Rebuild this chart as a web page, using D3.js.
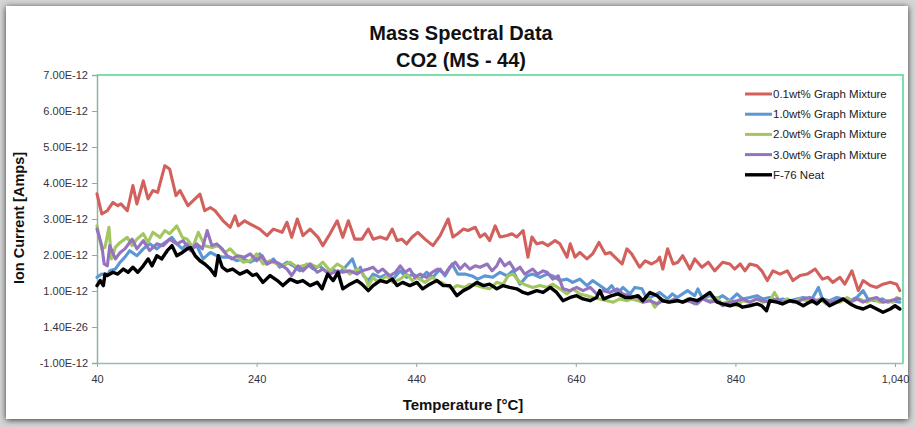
<!DOCTYPE html>
<html>
<head>
<meta charset="utf-8">
<script src="https://cdn.jsdelivr.net/npm/d3@7"></script>
<style>
  html, body { margin: 0; padding: 0; background: #ffffff; }
  svg { display: block; }
</style>
</head>
<body>
<svg id="chart" width="915" height="428"></svg>
<script>
// Axis ticks and their printed labels (ion current in units of 1e-12 A)
const xTicks = [40, 240, 440, 640, 840, 1040];
const yTicks = [-1, 0, 1, 2, 3, 4, 5, 6, 7];
const yTickLabels = ["-1.00E-12", "1.40E-26", "1.00E-12", "2.00E-12", "3.00E-12",
                     "4.00E-12", "5.00E-12", "6.00E-12", "7.00E-12"];

const seriesNames = ["0.1wt% Graph Mixture", "1.0wt% Graph Mixture", "2.0wt% Graph Mixture",
                     "3.0wt% Graph Mixture", "F-76 Neat"];
const seriesColors = ["#d2615d", "#5a97d3", "#a3c660", "#9474bf", "#000000"];

// [temperature °C, ion current ×1e-12 A]
const mix01 = [[40,3.70],[46,3.14],[53,3.23],[60,3.46],[66,3.37],[70,3.42],[78,3.23],[85,3.93],[90,3.42],
  [98,4.06],[104,3.56],[110,3.79],[116,3.74],[125,4.48],[131,4.39],[139,3.65],[144,3.79],[154,3.37],
  [169,3.69],[175,3.23],[182,3.32],[188,3.23],[198,2.95],[207,2.77],[213,3.09],[217,2.81],[225,2.95],
  [232,2.86],[244,2.72],[253,2.54],[261,2.72],[272,2.63],[278,2.91],[284,2.49],[291,3.00],[298,2.54],
  [307,2.72],[317,2.49],[323,2.26],[332,2.59],[341,2.95],[348,2.49],[355,2.95],[363,2.44],[372,2.44],
  [380,2.72],[386,2.44],[395,2.50],[403,2.44],[410,2.72],[416,2.40],[422,2.44],[428,2.31],[435,2.50],
  [442,2.63],[451,2.44],[461,2.26],[470,2.54],[480,3.00],[486,2.50],[492,2.59],[499,2.72],[505,2.68],
  [514,2.77],[520,2.50],[526,2.59],[532,2.40],[539,2.81],[545,2.50],[554,2.54],[560,2.59],[566,2.50],
  [574,2.68],[580,1.94],[585,2.50],[591,2.31],[598,2.35],[605,2.26],[614,2.40],[620,2.31],[629,1.94],
  [633,2.31],[639,1.94],[645,2.07],[654,1.89],[661,2.03],[669,2.35],[677,2.03],[683,2.07],[689,1.94],
  [698,1.75],[704,2.17],[710,2.03],[720,1.66],[727,1.84],[735,1.75],[742,1.84],[745,1.94],[749,1.61],
  [755,2.17],[762,1.75],[768,1.80],[774,1.98],[783,1.61],[789,1.89],[798,1.66],[806,1.80],[814,1.56],
  [824,1.80],[833,1.75],[839,1.61],[846,1.75],[852,1.56],[858,1.75],[867,1.70],[873,1.56],[880,1.29],
  [887,1.56],[896,1.47],[905,1.56],[912,1.29],[921,1.43],[930,1.47],[940,1.61],[949,1.33],[956,1.38],
  [962,1.24],[971,1.38],[977,1.19],[986,1.56],[994,1.01],[1000,1.29],[1009,1.15],[1017,1.10],[1025,1.19],
  [1034,1.24],[1042,1.19],[1046,1.01]];

const mix10 = [[40,1.38],[46,1.47],[53,1.43],[56,1.56],[63,1.61],[69,1.80],[75,1.94],[81,2.12],[90,1.98],
  [98,2.17],[106,2.31],[115,2.17],[123,2.31],[131,2.44],[134,2.49],[140,2.31],[147,2.17],[153,2.31],
  [159,2.17],[165,2.26],[173,1.89],[182,2.07],[190,1.98],[198,1.94],[207,1.94],[215,1.84],[223,1.89],
  [232,1.80],[240,1.89],[244,2.03],[253,1.75],[261,1.89],[269,1.66],[278,1.80],[286,1.70],[294,1.56],
  [303,1.75],[311,1.61],[319,1.70],[328,1.52],[336,1.61],[342,1.47],[351,1.66],[360,1.89],[366,1.52],
  [370,1.66],[374,1.42],[380,1.29],[386,1.47],[395,1.38],[403,1.47],[411,1.33],[420,1.56],[428,1.38],
  [436,1.47],[445,1.33],[453,1.52],[461,1.38],[470,1.61],[476,1.42],[485,1.75],[492,1.47],[501,1.47],
  [510,1.42],[517,1.33],[526,1.42],[536,1.38],[545,1.52],[554,1.42],[561,1.56],[570,1.19],[579,1.42],
  [586,1.47],[595,1.38],[604,1.47],[611,1.42],[620,1.29],[629,1.33],[636,1.24],[645,1.33],[654,1.15],
  [661,1.29],[670,1.15],[679,1.01],[685,1.15],[692,0.92],[699,1.10],[708,0.92],[714,1.10],[723,1.06],
  [729,0.78],[738,0.87],[745,0.96],[755,0.78],[761,0.92],[767,0.82],[780,1.01],[789,0.87],[793,1.06],
  [799,0.78],[808,0.87],[817,0.78],[824,0.87],[833,0.73],[842,0.92],[849,0.78],[858,0.82],[867,0.87],
  [874,0.78],[883,0.82],[892,0.73],[899,0.78],[908,0.73],[917,0.78],[925,0.82],[936,0.78],[944,1.10],
  [949,0.78],[958,0.73],[967,0.82],[975,0.78],[984,0.73],[992,0.82],[1000,1.01],[1006,0.78],[1015,0.73],
  [1024,0.78],[1031,0.69],[1037,0.73],[1046,0.69]];

const mix20 = [[40,2.81],[46,2.17],[50,2.21],[55,2.77],[58,1.89],[63,2.21],[69,2.35],[78,2.49],[84,2.26],
  [90,2.44],[98,2.59],[104,2.35],[110,2.63],[119,2.49],[125,2.68],[131,2.59],[140,2.81],[147,2.49],
  [153,2.44],[160,2.21],[167,2.63],[175,2.26],[184,2.21],[192,2.26],[200,2.07],[207,2.17],[215,1.98],
  [223,1.80],[232,1.84],[240,2.03],[248,1.75],[257,1.84],[266,1.75],[273,1.70],[282,1.80],[291,1.66],
  [298,1.70],[307,1.75],[316,1.66],[323,1.80],[332,1.56],[341,1.75],[348,1.66],[357,1.47],[366,1.61],
  [372,1.52],[376,1.38],[380,1.15],[386,1.38],[390,1.29],[395,1.29],[403,1.42],[411,1.24],[420,1.33],
  [428,1.47],[435,1.29],[441,1.38],[451,1.24],[460,1.38],[466,1.29],[476,1.19],[485,1.06],[491,1.15],
  [501,1.10],[507,1.19],[516,1.15],[524,1.10],[532,1.06],[541,1.24],[549,1.19],[555,1.42],[561,1.47],
  [570,1.24],[579,1.15],[586,1.10],[595,1.15],[604,1.10],[611,1.19],[620,1.06],[629,0.92],[636,1.06],
  [645,0.92],[654,0.87],[661,0.82],[670,0.78],[679,0.73],[687,0.69],[695,0.78],[704,0.73],[710,0.78],
  [718,0.73],[724,0.69],[733,0.78],[739,0.55],[747,0.78],[755,0.69],[764,0.78],[774,0.69],[780,0.78],
  [789,0.64],[799,0.78],[808,0.73],[817,0.82],[823,0.64],[833,0.73],[842,0.59],[849,0.73],[858,0.69],
  [867,0.78],[874,0.69],[883,0.73],[889,0.96],[896,0.69],[905,0.78],[912,0.69],[921,0.78],[930,0.73],
  [936,0.69],[946,0.78],[954,0.64],[962,0.73],[971,0.69],[980,0.82],[987,0.73],[995,0.78],[1005,0.69],
  [1012,0.78],[1021,0.69],[1030,0.73],[1037,0.69],[1042,0.82],[1046,0.78]];

const mix30 = [[40,2.72],[46,2.26],[49,1.75],[53,1.70],[56,2.26],[63,1.89],[69,2.07],[75,2.17],[84,2.44],
  [90,2.17],[98,2.40],[106,2.12],[115,2.31],[123,2.26],[131,2.44],[140,2.31],[148,2.40],[157,2.12],
  [165,2.31],[172,2.17],[178,2.68],[184,2.26],[190,2.31],[197,2.17],[203,1.98],[209,1.89],[217,1.98],
  [225,1.94],[232,2.03],[240,1.84],[247,1.98],[253,1.75],[261,1.84],[269,1.75],[278,1.61],[284,1.43],
  [292,1.70],[298,1.56],[307,1.75],[316,1.52],[323,1.61],[332,1.47],[341,1.56],[348,1.52],[357,1.56],
  [366,1.47],[372,1.56],[380,1.61],[386,1.66],[392,1.52],[398,1.61],[407,1.42],[414,1.52],[420,1.70],
  [426,1.52],[432,1.61],[438,1.38],[445,1.47],[453,1.38],[460,1.52],[467,1.61],[476,1.47],[482,1.66],
  [489,1.80],[495,1.61],[501,1.75],[507,1.61],[514,1.70],[520,1.66],[529,1.75],[535,1.56],[541,1.70],
  [545,1.89],[551,1.70],[557,1.80],[564,1.56],[570,1.66],[576,1.47],[586,1.61],[592,1.47],[599,1.56],
  [604,1.52],[611,1.33],[618,1.42],[624,1.06],[633,1.01],[641,1.10],[649,1.01],[658,1.10],[666,0.92],
  [674,1.01],[683,0.96],[692,1.06],[699,0.92],[708,0.87],[718,0.82],[724,0.69],[733,0.73],[742,0.64],
  [749,0.73],[757,0.69],[764,0.78],[773,0.69],[780,0.73],[792,0.64],[799,0.78],[808,0.69],[817,0.73],
  [824,0.59],[833,0.69],[842,0.73],[849,0.78],[858,0.69],[867,0.78],[874,0.73],[883,0.69],[892,0.78],
  [899,0.69],[908,0.73],[917,0.69],[925,0.78],[933,0.82],[942,0.73],[949,0.78],[958,0.69],[967,0.73],
  [975,0.78],[984,0.69],[992,0.78],[1000,0.69],[1009,0.78],[1017,0.82],[1025,0.69],[1034,0.73],
  [1042,0.78],[1046,0.78]];

const neat = [[40,1.15],[44,1.29],[48,1.15],[50,1.47],[53,1.43],[60,1.52],[66,1.47],[73,1.61],[79,1.52],
  [85,1.66],[91,1.52],[98,1.70],[104,1.89],[109,1.70],[115,1.98],[121,1.89],[128,2.12],[134,2.26],
  [140,1.98],[147,2.07],[153,2.17],[157,2.21],[163,1.98],[169,1.84],[175,1.75],[182,1.61],[188,1.43],
  [192,1.98],[197,1.66],[203,1.56],[210,1.61],[219,1.47],[228,1.56],[235,1.43],[240,1.47],[248,1.24],
  [257,1.43],[266,1.29],[273,1.15],[282,1.33],[291,1.24],[298,1.29],[307,1.15],[316,1.24],[322,1.06],
  [329,1.47],[336,1.29],[342,1.52],[348,1.06],[357,1.19],[366,1.29],[372,1.19],[380,1.01],[386,1.15],
  [395,1.29],[403,1.24],[410,1.33],[416,1.15],[423,1.24],[432,1.15],[441,1.24],[448,1.06],[457,1.19],
  [466,1.29],[474,1.15],[482,1.15],[491,0.87],[499,1.01],[507,1.10],[516,1.24],[524,1.15],[532,1.19],
  [541,1.06],[549,1.15],[557,1.10],[566,1.06],[574,0.96],[580,0.92],[591,1.01],[599,0.96],[608,1.10],
  [616,0.96],[624,0.73],[633,0.82],[641,0.87],[649,0.78],[658,0.73],[666,0.82],[670,1.01],[675,0.78],
  [685,0.87],[693,0.92],[702,0.82],[710,0.82],[718,0.87],[724,0.73],[733,0.96],[742,0.87],[749,0.73],
  [757,0.69],[767,0.73],[774,0.69],[783,0.78],[792,0.73],[799,0.82],[808,0.96],[817,0.69],[824,0.64],
  [833,0.59],[842,0.64],[849,0.55],[858,0.59],[867,0.64],[873,0.59],[879,0.45],[883,0.73],[892,0.69],
  [899,0.64],[908,0.73],[917,0.69],[925,0.59],[936,0.73],[942,0.64],[949,0.78],[958,0.59],[967,0.69],
  [975,0.78],[984,0.64],[992,0.55],[1000,0.50],[1009,0.59],[1017,0.50],[1025,0.41],[1034,0.50],
  [1040,0.59],[1046,0.50]];

const seriesData = [mix01, mix10, mix20, mix30, neat];

const W = 915, H = 428;
const plot = { left: 97, right: 903, top: 75, bottom: 363 };
const font = "'Liberation Sans', Arial, sans-serif";

const svg = d3.select("#chart");

// soft frame shadow around the white card
const defs = svg.append("defs");
const shadow = defs.append("filter").attr("id", "cardShadow")
  .attr("x", "-5%").attr("y", "-5%").attr("width", "110%").attr("height", "110%");
shadow.append("feGaussianBlur").attr("in", "SourceAlpha").attr("stdDeviation", 3).attr("result", "b");
shadow.append("feOffset").attr("in", "b").attr("dx", 0).attr("dy", 1).attr("result", "o");
shadow.append("feComponentTransfer").attr("in", "o").attr("result", "s")
  .append("feFuncA").attr("type", "linear").attr("slope", 0.75);
const merge = shadow.append("feMerge");
merge.append("feMergeNode").attr("in", "s");
merge.append("feMergeNode").attr("in", "SourceGraphic");

svg.append("rect").attr("width", W).attr("height", H).attr("fill", "#d4d4d4");
svg.append("rect").attr("x", 6).attr("y", 6).attr("width", 902).attr("height", 413)
  .attr("fill", "#ffffff").attr("filter", "url(#cardShadow)");

const x = d3.scaleLinear().domain([40, 1050]).range([plot.left, plot.right]);
const y = d3.scaleLinear().domain([-1, 7]).range([plot.bottom, plot.top]);

// plot-area frame (top and right edges)
svg.append("path")
  .attr("d", `M${plot.left},${plot.top}H${plot.right}V${plot.bottom}`)
  .attr("fill", "none").attr("stroke", "#52d68e").attr("stroke-width", 1.5);

// y axis
const yAxis = svg.append("g").attr("transform", `translate(${plot.left},0)`)
  .call(d3.axisLeft(y).tickValues(yTicks).tickSize(5).tickPadding(4)
    .tickFormat((d, i) => yTickLabels[i]));
yAxis.select(".domain").attr("stroke", "#8fb39f").attr("stroke-width", 1.5);
yAxis.selectAll(".tick line").attr("stroke", "#9aa8a0");
yAxis.selectAll(".tick text").attr("fill", "#333340")
  .style("font-family", font).style("font-size", "11px");

// x axis
const xAxis = svg.append("g").attr("transform", `translate(0,${plot.bottom})`)
  .call(d3.axisBottom(x).tickValues(xTicks).tickSize(4).tickPadding(8).tickSizeOuter(0));
xAxis.select(".domain").attr("stroke", "#9cbcaa").attr("stroke-width", 1.5);
xAxis.selectAll(".tick line").attr("stroke", "#9aa8a0");
xAxis.selectAll(".tick text").attr("fill", "#333340")
  .style("font-family", font).style("font-size", "11px");

// series lines
const line = d3.line().x(d => x(d[0])).y(d => y(d[1])).curve(d3.curveLinear);
svg.append("g").selectAll("path").data(seriesData).join("path")
  .attr("d", line)
  .attr("fill", "none")
  .attr("stroke", (d, i) => seriesColors[i])
  .attr("stroke-width", (d, i) => i === 4 ? 3.4 : 3.1)
  .attr("stroke-linejoin", "round")
  .attr("stroke-linecap", "round");

// titles
svg.append("text").attr("x", 461).attr("y", 40).attr("text-anchor", "middle")
  .style("font-family", font).style("font-weight", "bold").style("font-size", "20px")
  .attr("fill", "#111").text("Mass Spectral Data");
svg.append("text").attr("x", 461).attr("y", 67).attr("text-anchor", "middle")
  .style("font-family", font).style("font-weight", "bold").style("font-size", "20px")
  .attr("fill", "#111").text("CO2 (MS - 44)");

svg.append("text").attr("x", 463).attr("y", 410).attr("text-anchor", "middle")
  .style("font-family", font).style("font-weight", "bold").style("font-size", "15px")
  .attr("fill", "#111").text("Temperature [°C]");

svg.append("text")
  .attr("transform", "translate(24,218) rotate(-90)")
  .attr("text-anchor", "middle")
  .style("font-family", font).style("font-weight", "bold").style("font-size", "14.5px")
  .attr("fill", "#111").text("Ion Current [Amps]");

// legend
const legend = svg.append("g");
seriesNames.forEach((name, i) => {
  const ly = 94 + i * 20.2;
  legend.append("line").attr("x1", 745).attr("x2", 772).attr("y1", ly).attr("y2", ly)
    .attr("stroke", seriesColors[i]).attr("stroke-width", i === 4 ? 3.4 : 3);
  legend.append("text").attr("x", 773).attr("y", ly).attr("dy", "0.35em")
    .style("font-family", font).style("font-size", "11.5px")
    .attr("fill", "#222").text(name);
});
</script>
</body>
</html>
